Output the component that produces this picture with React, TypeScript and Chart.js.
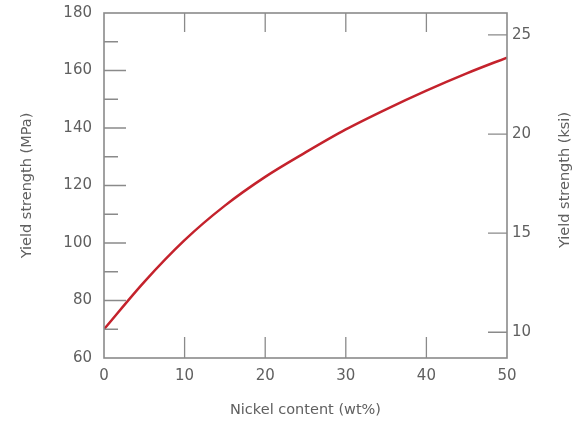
import React, { useEffect, useRef } from "react";
import { Chart, registerables } from "chart.js";

Chart.register(...registerables);

const nickelContent = [0, 5, 10, 15, 20, 25, 30, 35, 40, 45, 50];
const yieldStrengthMPa = [70, 86.5, 101, 113, 123, 131.5, 139.5, 146.5, 153, 159, 164.5];
const mpaTicks = [60, 80, 100, 120, 140, 160, 180];
const mpaMinorTicks = [70, 90, 110, 130, 150, 170];
const ksiTicks = [10, 15, 20, 25];
const nickelTicks = [0, 10, 20, 30, 40, 50];
const MPA_PER_KSI = 6.895;

const AXIS = "#8a8a8a";
const TEXT = "#606060";
const FONT = "'DejaVu Sans', sans-serif";

const frame = {
  id: "frame",
  afterDraw(chart: any) {
    const { ctx, chartArea: a, scales } = chart;
    ctx.save();
    ctx.strokeStyle = AXIS;
    ctx.lineWidth = 1.6;
    ctx.strokeRect(a.left, a.top, a.right - a.left, a.bottom - a.top);
    ctx.lineWidth = 1.3;
    ctx.beginPath();
    nickelTicks.slice(1, -1).forEach((v) => {
      const x = scales.x.getPixelForValue(v);
      ctx.moveTo(x, a.bottom);
      ctx.lineTo(x, a.bottom - 21);
      ctx.moveTo(x, a.top);
      ctx.lineTo(x, a.top + 19);
    });
    mpaTicks.slice(1, -1).forEach((v) => {
      const y = scales.y.getPixelForValue(v);
      ctx.moveTo(a.left, y);
      ctx.lineTo(a.left + 22, y);
    });
    mpaMinorTicks.forEach((v) => {
      const y = scales.y.getPixelForValue(v);
      ctx.moveTo(a.left, y);
      ctx.lineTo(a.left + 14, y);
    });
    ksiTicks.forEach((v) => {
      const y = scales.y2.getPixelForValue(v);
      ctx.moveTo(a.right, y);
      ctx.lineTo(a.right - 19, y);
    });
    ctx.stroke();
    ctx.fillStyle = TEXT;
    ctx.font = `14.5px ${FONT}`;
    ctx.textAlign = "center";
    ctx.textBaseline = "middle";
    ctx.translate(565, 180);
    ctx.rotate(-Math.PI / 2);
    ctx.fillText("Yield strength (ksi)", 0, 0);
    ctx.restore();
  },
};

const noPadY = (w: number) => (s: any) => {
  s.width = w;
  s.paddingTop = 0;
  s.paddingBottom = 0;
};

export default function App() {
  const ref = useRef<HTMLCanvasElement>(null);
  useEffect(() => {
    const chart = new Chart(ref.current!, {
      type: "line",
      data: {
        datasets: [
          {
            data: nickelContent.map((x, i) => ({ x, y: yieldStrengthMPa[i] })),
            borderColor: "#c4222c",
            borderWidth: 2.5,
            pointRadius: 0,
            cubicInterpolationMode: "monotone",
            yAxisID: "y",
          },
        ],
      },
      options: {
        responsive: false,
        animation: false,
        events: [],
        layout: { padding: { top: 13, left: 0, right: 0, bottom: 0 } },
        plugins: { legend: { display: false }, tooltip: { enabled: false } },
        scales: {
          x: {
            type: "linear",
            min: 0,
            max: 50,
            afterBuildTicks: (s: any) => {
              s.ticks = nickelTicks.map((value) => ({ value }));
            },
            afterFit: (s: any) => {
              s.height = 63;
              s.paddingLeft = 0;
              s.paddingRight = 0;
            },
            grid: { display: false, drawTicks: false },
            border: { display: false },
            ticks: { color: TEXT, font: { family: FONT, size: 15 }, padding: 9, maxRotation: 0 },
            title: {
              display: true,
              text: "Nickel content (wt%)",
              color: TEXT,
              font: { family: FONT, size: 14.5 },
              padding: { top: 0, bottom: 2 },
            },
          },
          y: {
            position: "left",
            min: 60,
            max: 180,
            afterBuildTicks: (s: any) => {
              s.ticks = mpaTicks.map((value) => ({ value }));
            },
            afterFit: noPadY(104),
            grid: { display: false, drawTicks: false },
            border: { display: false },
            ticks: { color: TEXT, font: { family: FONT, size: 15 }, padding: 12 },
            title: {
              display: true,
              text: "Yield strength (MPa)",
              color: TEXT,
              font: { family: FONT, size: 14.5 },
              padding: { top: 19, bottom: 0 },
            },
          },
          y2: {
            position: "right",
            min: 60 / MPA_PER_KSI,
            max: 180 / MPA_PER_KSI,
            afterBuildTicks: (s: any) => {
              s.ticks = ksiTicks.map((value) => ({ value }));
            },
            afterFit: noPadY(66),
            grid: { display: false, drawTicks: false },
            border: { display: false },
            ticks: { color: TEXT, font: { family: FONT, size: 15 }, padding: 5 },
          },
        },
      },
      plugins: [frame],
    } as any);
    return () => chart.destroy();
  }, []);
  return (
    <div style={{ position: "absolute", left: 0, top: 0, width: 573, height: 421, background: "#fff" }}>
      <canvas ref={ref} width={573} height={421} style={{ display: "block" }} />
    </div>
  );
}
